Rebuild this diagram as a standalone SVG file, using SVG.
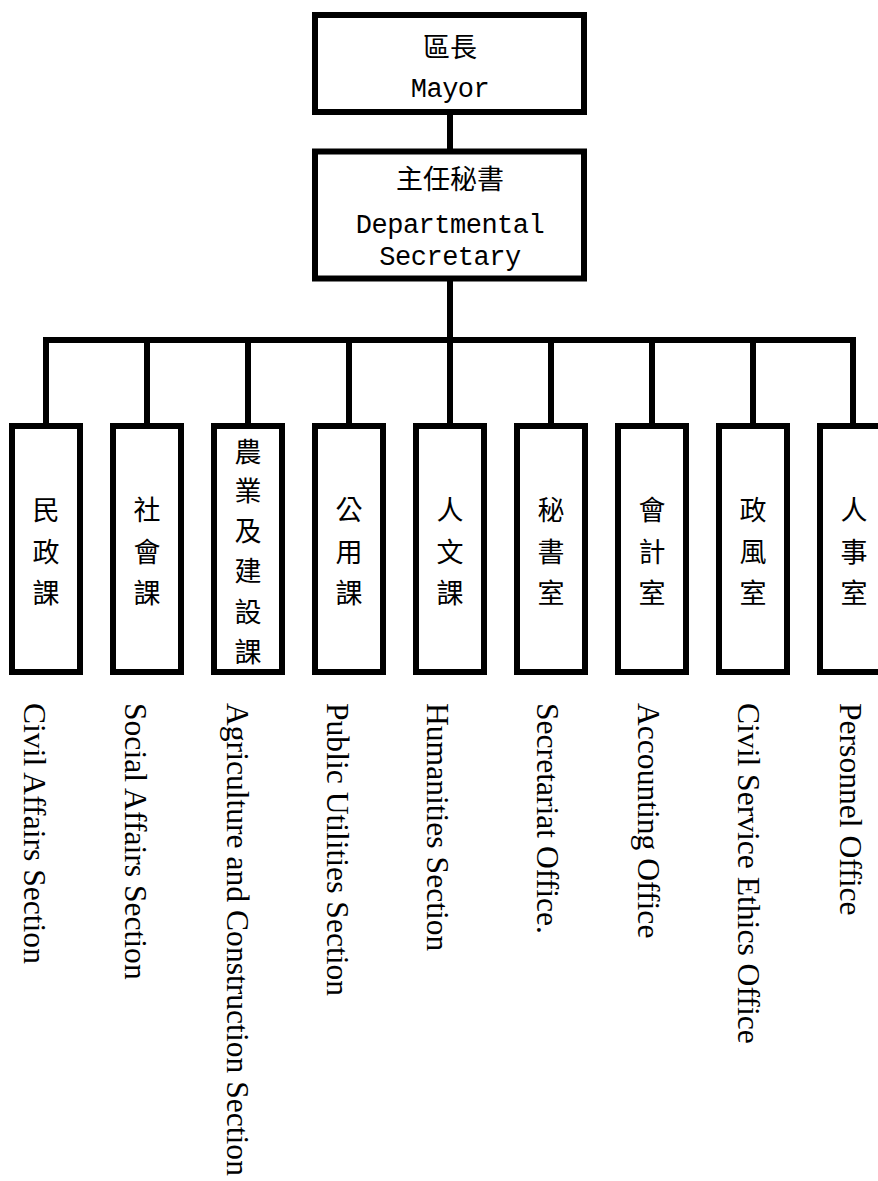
<svg xmlns="http://www.w3.org/2000/svg" width="878" height="1181" viewBox="0 0 878 1181">
<style>
.box{fill:#fff;stroke:#000;stroke-width:6}
.ln{stroke:#000;stroke-width:6;fill:none}
.cj{font-family:"Noto Sans CJK TC","Noto Sans CJK SC",sans-serif;font-size:27px;fill:#000;text-anchor:middle}
.mo{font-family:"Liberation Mono","DejaVu Sans Mono",monospace;font-size:27px;letter-spacing:-0.5px;fill:#000;text-anchor:middle}
.en{font-family:"Liberation Serif","Times New Roman",serif;font-size:31.6px;fill:#000}
</style>
<rect width="878" height="1181" fill="#fff"/>
<g id="connectors">
<line class="ln" x1="450" y1="112" x2="450" y2="151"/>
<line class="ln" x1="450" y1="279" x2="450" y2="340"/>
<line class="ln" x1="43" y1="340" x2="856" y2="340"/>
<line class="ln" x1="46" y1="340" x2="46" y2="426"/>
<line class="ln" x1="147" y1="340" x2="147" y2="426"/>
<line class="ln" x1="248" y1="340" x2="248" y2="426"/>
<line class="ln" x1="349" y1="340" x2="349" y2="426"/>
<line class="ln" x1="450" y1="340" x2="450" y2="426"/>
<line class="ln" x1="551" y1="340" x2="551" y2="426"/>
<line class="ln" x1="652" y1="340" x2="652" y2="426"/>
<line class="ln" x1="753" y1="340" x2="753" y2="426"/>
<line class="ln" x1="853" y1="340" x2="853" y2="426"/>
</g>
<g id="mayor">
<rect class="box" x="315" y="15" width="269" height="97"/>
<text class="cj" x="450" y="57">區長</text>
<text class="mo" x="450" y="97">Mayor</text>
</g>
<g id="secretary">
<rect class="box" x="315" y="151.5" width="269" height="127"/>
<text class="cj" x="450" y="189">主任秘書</text>
<text class="mo" x="450" y="233">Departmental</text>
<text class="mo" x="450" y="265">Secretary</text>
</g>
<g id="civil">
<rect class="box" x="12" y="426" width="68" height="246"/>
<text class="cj" x="46"><tspan x="46" y="520">民</tspan><tspan x="46" y="562">政</tspan><tspan x="46" y="603">課</tspan></text>
<text class="en" transform="translate(24,703) rotate(90)">Civil Affairs Section</text>
</g>
<g id="social">
<rect class="box" x="113" y="426" width="68" height="246"/>
<text class="cj" x="147"><tspan x="147" y="520">社</tspan><tspan x="147" y="562">會</tspan><tspan x="147" y="603">課</tspan></text>
<text class="en" transform="translate(125,703) rotate(90)">Social Affairs Section</text>
</g>
<g id="agri">
<rect class="box" x="214" y="426" width="68" height="246"/>
<text class="cj" x="248"><tspan x="248" y="462">農</tspan><tspan x="248" y="501">業</tspan><tspan x="248" y="541">及</tspan><tspan x="248" y="581">建</tspan><tspan x="248" y="622">設</tspan><tspan x="248" y="662">課</tspan></text>
<text class="en" transform="translate(227,703) rotate(90)">Agriculture and Construction Section</text>
</g>
<g id="public">
<rect class="box" x="315" y="426" width="68" height="246"/>
<text class="cj" x="349"><tspan x="349" y="520">公</tspan><tspan x="349" y="562">用</tspan><tspan x="349" y="603">課</tspan></text>
<text class="en" transform="translate(327,703) rotate(90)">Public Utilities Section</text>
</g>
<g id="humanities">
<rect class="box" x="416" y="426" width="68" height="246"/>
<text class="cj" x="450"><tspan x="450" y="520">人</tspan><tspan x="450" y="562">文</tspan><tspan x="450" y="603">課</tspan></text>
<text class="en" transform="translate(427,703) rotate(90)">Humanities Section</text>
</g>
<g id="secretariat">
<rect class="box" x="517" y="426" width="68" height="246"/>
<text class="cj" x="551"><tspan x="551" y="520">秘</tspan><tspan x="551" y="562">書</tspan><tspan x="551" y="603">室</tspan></text>
<text class="en" transform="translate(537,703) rotate(90)">Secretariat Office.</text>
</g>
<g id="accounting">
<rect class="box" x="618" y="426" width="68" height="246"/>
<text class="cj" x="652"><tspan x="652" y="520">會</tspan><tspan x="652" y="562">計</tspan><tspan x="652" y="603">室</tspan></text>
<text class="en" transform="translate(638,703) rotate(90)">Accounting Office</text>
</g>
<g id="ethics">
<rect class="box" x="719" y="426" width="68" height="246"/>
<text class="cj" x="753"><tspan x="753" y="520">政</tspan><tspan x="753" y="562">風</tspan><tspan x="753" y="603">室</tspan></text>
<text class="en" transform="translate(738,703) rotate(90)">Civil Service Ethics Office</text>
</g>
<g id="personnel">
<rect class="box" x="820" y="426" width="68" height="246"/>
<text class="cj" x="854"><tspan x="854" y="520">人</tspan><tspan x="854" y="562">事</tspan><tspan x="854" y="603">室</tspan></text>
<text class="en" transform="translate(840,703) rotate(90)">Personnel Office</text>
</g>
</svg>
